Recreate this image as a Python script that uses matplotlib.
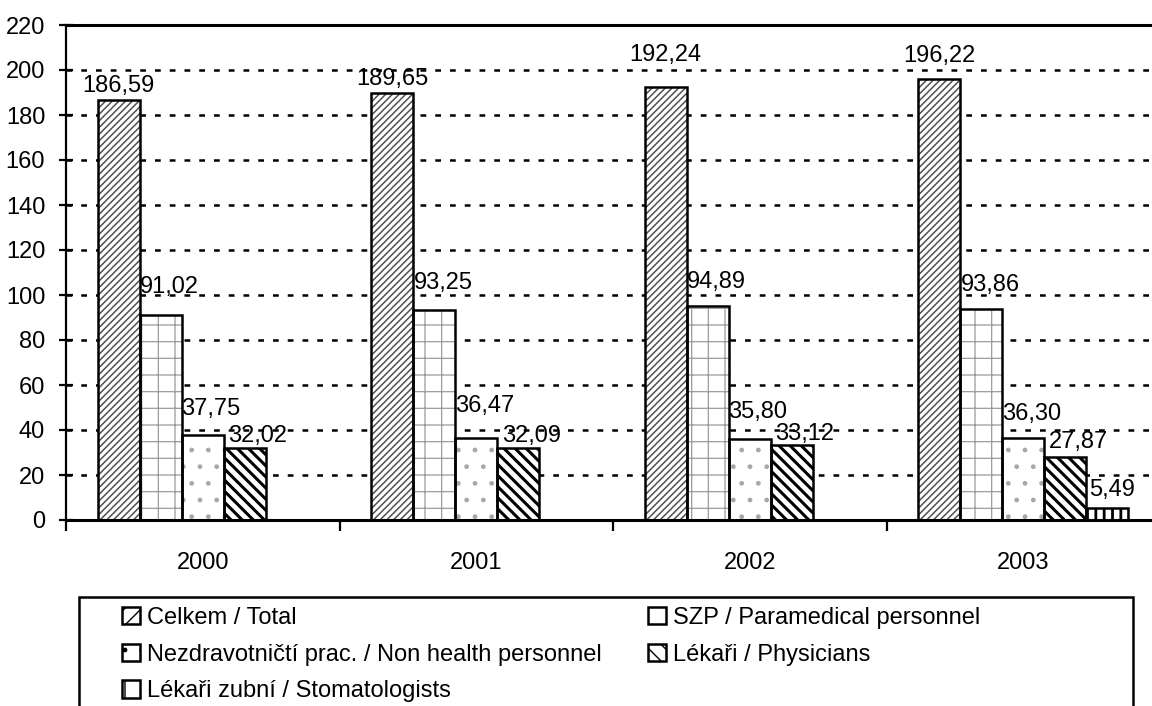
import numpy as np
import matplotlib
matplotlib.use('Agg')
import matplotlib.pyplot as plt
from matplotlib import font_manager
from matplotlib.patches import Rectangle, Patch

# ---------------- data ----------------
years = ['2000', '2001', '2002', '2003']
series_names = ['Celkem / Total',
                'SZP / Paramedical personnel',
                'Nezdravotničtí prac. / Non health personnel',
                'Lékaři / Physicians',
                'Lékaři zubní / Stomatologists']
celkem = [186.59, 189.65, 192.24, 196.22]
szp = [91.02, 93.25, 94.89, 93.86]
nezdrav = [37.75, 36.47, 35.80, 36.30]
lekari = [32.02, 32.09, 33.12, 27.87]
zubni = [np.nan, np.nan, np.nan, 5.49]
y_ticks = list(range(0, 221, 20))

# ---------------- style ----------------
hatches = ['/////', '+', '.', '\\\\\\', '||']
hatch_colors = ['#505050', '#9a9a9a', '#a8a8a8', 'black', 'black']
hatch_lws = [1.1, 0.9, 1.0, 2.2, 2.0]
legend_hatches = ['//', '', '.', '\\\\', '|']
label_dx_px = [0, 9, 8, 13, 5]
label_gap_px = [[8, 8, 26, 17], [22, 21, 18, 18], [20, 26, 21, 18], [6, 6, 5, 9], [0, 0, 0, 12]]

names = {f.name for f in font_manager.fontManager.ttflist}
fam = 'Liberation Sans Narrow' if 'Liberation Sans Narrow' in names else 'Liberation Sans'
plt.rcParams['font.family'] = [fam, 'DejaVu Sans']
FS = 17

W, H = 1152, 706
fig = plt.figure(figsize=(W / 100, H / 100), dpi=100)
ax = fig.add_axes([66 / W, 186 / H, (1160 - 66) / W, 495 / H])

series = [celkem, szp, nezdrav, lekari, zubni]
x = np.arange(len(years))
w = 42 / 273.5

for j, vals in enumerate(series):
    vals = np.array(vals, dtype=float)
    m = ~np.isnan(vals)
    xs = x[m] + (j - 2) * w
    with plt.rc_context({'hatch.linewidth': hatch_lws[j]}):
        bars = ax.bar(xs, vals[m], w, facecolor='white', edgecolor=hatch_colors[j],
                      linewidth=0, hatch=hatches[j], zorder=2)
        for p in bars:
            if hasattr(p, 'set_hatch_linewidth'):
                p.set_hatch_linewidth(hatch_lws[j])
    ax.bar(xs, vals[m], w, facecolor='none', edgecolor='black', linewidth=1.8, zorder=3)
    for k in np.where(m)[0]:
        v = vals[k]
        ax.annotate(f"{v:.2f}".replace('.', ','), (x[k] + (j - 2) * w, v),
                    xytext=(label_dx_px[j] * 0.72, label_gap_px[j][k] * 0.72),
                    textcoords='offset points', ha='center', va='baseline',
                    fontsize=FS, zorder=4)

ax.set_xlim(-0.5, 3.5)
ax.set_ylim(0, 220)
ax.set_yticks(y_ticks)
ax.set_xticks(x)
ax.set_xticklabels(years)
ax.set_xticks([-0.5, 0.5, 1.5, 2.5, 3.5], minor=True)
ax.tick_params(axis='y', direction='inout', length=10, width=1.6, pad=10, labelsize=FS)
ax.tick_params(axis='x', which='major', length=0, pad=23, labelsize=FS)
ax.tick_params(axis='x', which='minor', direction='out', length=8, width=1.6)

ax.yaxis.grid(True, color='black', linewidth=1.8, linestyle=(0, (2.3, 3.6)))
ax.set_axisbelow(True)
ax.spines['right'].set_visible(False)
ax.spines['left'].set_linewidth(1.6)
ax.spines['bottom'].set_linewidth(2.2)
ax.spines['top'].set_linewidth(2.2)


def mk(j):
    return Patch(facecolor='white', edgecolor='black', hatch=legend_hatches[j], linewidth=1.8)


common = dict(loc='upper left', frameon=False, fontsize=FS, handlelength=0.75,
              handleheight=0.75, handletextpad=0.3, labelspacing=0.62,
              borderpad=0, borderaxespad=0)
fig.legend([mk(0), mk(2), mk(4)], [series_names[0], series_names[2], series_names[4]],
           bbox_to_anchor=(122 / W, 1 - 607 / H), **common)
fig.legend([mk(1), mk(3)], [series_names[1], series_names[3]],
           bbox_to_anchor=(648 / W, 1 - 607 / H), **common)

fig.patches.append(Rectangle((79 / W, -0.05), (1133 - 79) / W, (706 - 597) / H + 0.05,
                             transform=fig.transFigure, fill=False, edgecolor='black',
                             linewidth=1.8, clip_on=False))

fig.savefig('out.png', dpi=100)
